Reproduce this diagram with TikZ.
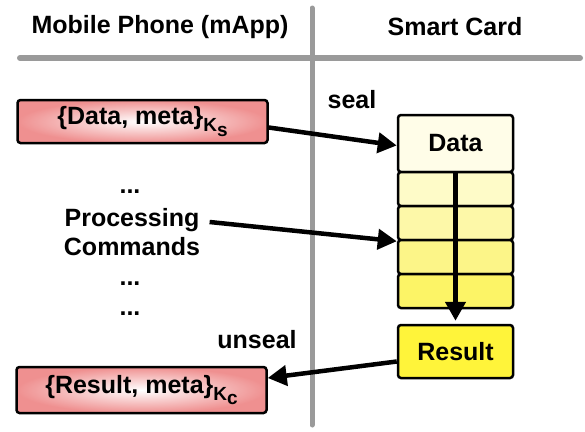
\documentclass[tikz,border=0pt]{standalone}
\usepackage{fontspec}
\setmainfont{Liberation Sans}
\usetikzlibrary{arrows.meta,positioning}

\definecolor{divider}{HTML}{9A9A9A}
\definecolor{cardA}{HTML}{FFFDE8}
\definecolor{cardB}{HTML}{FEFBC8}
\definecolor{cardC}{HTML}{FDF8A8}
\definecolor{cardD}{HTML}{FCF588}
\definecolor{cardE}{HTML}{FCF466}
\definecolor{resfill}{HTML}{FFF43A}
\definecolor{msgedge}{HTML}{EF9090}

% key subscript, e.g. K_s
\newcommand{\keysub}[1]{\raisebox{-0.5ex}{\fontsize{19}{19}\selectfont K\raisebox{-0.45ex}{#1}}}

\tikzset{
  txt/.style={font=\bfseries\fontsize{25}{29}\selectfont, align=center},
  msgbox/.style={txt, draw, line width=2.5pt, rounded corners=3pt,
    inner color=white, outer color=msgedge, minimum width=250pt, inner sep=0pt},
  cardbox/.style={txt, draw, line width=2.5pt, rounded corners=3pt,
    minimum width=115pt, inner sep=0pt},
  flow/.style={line width=4.5pt, -{Triangle[length=19pt,width=20pt]}},
}

\begin{document}
\begin{tikzpicture}[x=1pt, y=-1pt]
    \useasboundingbox (0,0) rectangle (585,431);

    % columns
    \node[txt] (phone) at (160,27) {Mobile Phone (mApp)};
    \node[txt] (card) at (455,27) {Smart Card};
    \draw[divider, line width=6pt, line cap=round] (20,58) -- (580,58);
    \draw[divider, line width=5pt, line cap=round] (312,8) -- (312,425);

    % sealed message in
    \node[msgbox, minimum height=43pt] (msgin) at (142.5,121.5) {\{Data, meta\}\keysub{s}};
    \node[txt] (seal) at (352,100) {seal};

    % card memory
    \node[cardbox, fill=cardA, minimum height=57pt] (data) at (455.5,143.5) {Data};
    \foreach \i/\c in {1/cardB,2/cardC,3/cardD,4/cardE}
        \node[cardbox, fill=\c, minimum height=34pt] (s\i) at (455.5,{172+34*\i-17}) {};
    \node[cardbox, fill=resfill, minimum height=53pt] (result) at (455.5,351.5) {Result};

    % commands
    \node[txt] (dots1) at (130,192) {...};
    \node[txt] (proc) at (132,232) {Processing\\Commands};
    \node[txt] (dots2) at (130,284) {...};
    \node[txt] (dots3) at (130,314) {...};

    % sealed message out
    \node[msgbox, minimum height=46pt] (msgout) at (141.5,390) {\{Result, meta\}\keysub{c}};
    \node[txt] (unseal) at (257,340) {unseal};

    \draw[flow] ([yshift=-6pt]msgin.east) -- ([yshift=-2pt]data.west);
    \draw[flow] ([xshift=6pt,yshift=10pt]proc.east) -- (s2.south west);
    \draw[flow, shorten >=3pt] (data.south) -- (result.north);
    \draw[flow] ([yshift=-10pt]result.west) -- ([yshift=12pt]msgout.east);
\end{tikzpicture}
\end{document}
